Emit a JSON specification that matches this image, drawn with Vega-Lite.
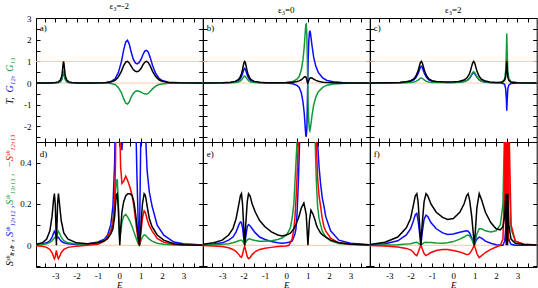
{
"$schema":"https://vega.github.io/schema/vega-lite/v6.json",
"padding":{"left":4,"top":1,"right":0,"bottom":0},
"bounds":"flush",
"spacing":0,
"columns":3,
"config":{"font":"Liberation Serif","view":{"stroke":"black","strokeWidth":1},"axis":{"domain":false,"grid":false,"tickColor":"black","tickWidth":1,"labelFont":"Liberation Serif","labelFontSize":9,"labelColor":"black"},"title":{"font":"Liberation Serif","fontSize":9,"fontWeight":"normal","offset":3}},
"datasets":{
"a":[
{"E":-3.9,"k":0.002,"b":0.001,"g":0.001},{"E":-3.3,"k":0.007,"b":0.0035,"g":0.0035},{"E":-3.0,"k":0.023,"b":0.012,"g":0.011},{"E":-2.86,"k":0.054,"b":0.027,"g":0.027},{"E":-2.76,"k":0.138,"b":0.069,"g":0.069},{"E":-2.71,"k":0.265,"b":0.13,"g":0.135},{"E":-2.68,"k":0.42,"b":0.21,"g":0.21},{"E":-2.65,"k":0.69,"b":0.34,"g":0.35},{"E":-2.63,"k":0.9,"b":0.45,"g":0.45},{"E":-2.61,"k":1.0,"b":0.5,"g":0.5},{"E":-2.59,"k":0.9,"b":0.45,"g":0.45},{"E":-2.57,"k":0.69,"b":0.34,"g":0.35},{"E":-2.54,"k":0.42,"b":0.21,"g":0.21},{"E":-2.51,"k":0.265,"b":0.13,"g":0.135},{"E":-2.46,"k":0.138,"b":0.069,"g":0.069},{"E":-2.36,"k":0.054,"b":0.027,"g":0.027},{"E":-2.21,"k":0.022,"b":0.011,"g":0.011},{"E":-1.9,"k":0.007,"b":0.0035,"g":0.0035},{"E":-1.3,"k":0.003,"b":0.003,"g":0.0},{"E":-0.8,"k":0.01,"b":0.01,"g":0.0},
{"E":-0.6,"k":0.02,"b":0.02,"g":0.0},{"E":-0.4,"k":0.05,"b":0.07,"g":-0.02},{"E":-0.2,"k":0.12,"b":0.19,"g":-0.07},{"E":-0.05,"k":0.28,"b":0.48,"g":-0.2},{"E":0.1,"k":0.55,"b":1.0,"g":-0.45},{"E":0.2,"k":0.8,"b":1.52,"g":-0.72},{"E":0.3,"k":0.97,"b":1.9,"g":-0.93},{"E":0.38,"k":1.0,"b":1.97,"g":-0.97},{"E":0.46,"k":0.93,"b":1.81,"g":-0.88},{"E":0.55,"k":0.78,"b":1.44,"g":-0.66},{"E":0.65,"k":0.62,"b":1.1,"g":-0.48},{"E":0.75,"k":0.54,"b":0.93,"g":-0.39},{"E":0.83,"k":0.52,"b":0.88,"g":-0.36},{"E":0.92,"k":0.56,"b":0.94,"g":-0.38},{"E":1.02,"k":0.68,"b":1.1,"g":-0.42},{"E":1.12,"k":0.87,"b":1.35,"g":-0.48},{"E":1.2,"k":0.97,"b":1.48,"g":-0.51},{"E":1.27,"k":1.0,"b":1.51,"g":-0.51},{"E":1.35,"k":0.95,"b":1.43,"g":-0.48},{"E":1.45,"k":0.78,"b":1.16,"g":-0.38},{"E":1.55,"k":0.55,"b":0.82,"g":-0.27},{"E":1.7,"k":0.3,"b":0.44,"g":-0.14},{"E":1.85,"k":0.15,"b":0.22,"g":-0.07},{"E":2.0,"k":0.08,"b":0.12,"g":-0.04},{"E":2.3,"k":0.03,"b":0.04,"g":-0.01},{"E":2.8,"k":0.01,"b":0.01,"g":0.0},{"E":3.9,"k":0.0,"b":0.0,"g":0.0}],
"b":[
{"E":-3.9,"k":0.004,"b":0.003,"g":0.001},{"E":-3.0,"k":0.015,"b":0.01,"g":0.005},{"E":-2.6,"k":0.038,"b":0.026,"g":0.012},{"E":-2.4,"k":0.077,"b":0.052,"g":0.025},{"E":-2.25,"k":0.158,"b":0.107,"g":0.051},{"E":-2.17,"k":0.26,"b":0.177,"g":0.083},{"E":-2.1,"k":0.43,"b":0.292,"g":0.138},{"E":-2.05,"k":0.63,"b":0.428,"g":0.202},{"E":-2.01,"k":0.82,"b":0.558,"g":0.262},{"E":-1.98,"k":0.95,"b":0.646,"g":0.304},{"E":-1.95,"k":1.0,"b":0.68,"g":0.32},{"E":-1.92,"k":0.95,"b":0.646,"g":0.304},{"E":-1.89,"k":0.82,"b":0.558,"g":0.262},{"E":-1.85,"k":0.63,"b":0.428,"g":0.202},{"E":-1.8,"k":0.43,"b":0.292,"g":0.138},{"E":-1.73,"k":0.26,"b":0.177,"g":0.083},{"E":-1.65,"k":0.158,"b":0.107,"g":0.051},{"E":-1.5,"k":0.077,"b":0.052,"g":0.025},{"E":-1.25,"k":0.033,"b":0.022,"g":0.011},{"E":-0.95,"k":0.017,"b":0.012,"g":0.005},{"E":-0.5,"k":0.012,"b":0.004,"g":0.008},
{"E":0.0,"k":0.02,"b":0.0,"g":0.02},{"E":0.3,"k":0.04,"b":-0.03,"g":0.07},{"E":0.5,"k":0.07,"b":-0.11,"g":0.18},{"E":0.6,"k":0.1,"b":-0.2,"g":0.3},{"E":0.7,"k":0.15,"b":-0.45,"g":0.6},{"E":0.78,"k":0.22,"b":-0.88,"g":1.1},{"E":0.84,"k":0.28,"b":-1.42,"g":1.7},{"E":0.88,"k":0.3,"b":-2.0,"g":2.3},{"E":0.91,"k":0.28,"b":-2.42,"g":2.7},{"E":0.93,"k":0.24,"b":-2.48,"g":2.72},{"E":0.96,"k":0.12,"b":-2.08,"g":2.2},{"E":0.98,"k":0.04,"b":-1.16,"g":1.2},{"E":1.0,"k":0.0,"b":0.0,"g":0.0},{"E":1.02,"k":0.04,"b":1.04,"g":-1.0},{"E":1.05,"k":0.12,"b":1.92,"g":-1.8},{"E":1.08,"k":0.19,"b":2.34,"g":-2.15},{"E":1.1,"k":0.22,"b":2.42,"g":-2.2},{"E":1.13,"k":0.24,"b":2.29,"g":-2.05},{"E":1.2,"k":0.23,"b":1.73,"g":-1.5},{"E":1.28,"k":0.18,"b":1.18,"g":-1.0},{"E":1.38,"k":0.12,"b":0.77,"g":-0.65},{"E":1.5,"k":0.08,"b":0.48,"g":-0.4},{"E":1.7,"k":0.04,"b":0.24,"g":-0.2},{"E":1.9,"k":0.02,"b":0.12,"g":-0.1},{"E":2.2,"k":0.01,"b":0.06,"g":-0.05},{"E":2.6,"k":0.005,"b":0.025,"g":-0.02},{"E":3.2,"k":0.0,"b":0.005,"g":0.0},{"E":3.9,"k":0.0,"b":0.0,"g":0.0}],
"c":[
{"E":-3.9,"k":0.006,"b":0.004,"g":0.002},{"E":-3.0,"k":0.015,"b":0.011,"g":0.004},{"E":-2.5,"k":0.03,"b":0.023,"g":0.007},{"E":-2.2,"k":0.059,"b":0.045,"g":0.015},{"E":-2.0,"k":0.107,"b":0.082,"g":0.025},{"E":-1.85,"k":0.193,"b":0.148,"g":0.045},{"E":-1.75,"k":0.323,"b":0.248,"g":0.075},{"E":-1.65,"k":0.564,"b":0.433,"g":0.131},{"E":-1.6,"k":0.744,"b":0.572,"g":0.172},{"E":-1.55,"k":0.924,"b":0.71,"g":0.214},{"E":-1.5,"k":1.0,"b":0.772,"g":0.232},{"E":-1.45,"k":0.925,"b":0.71,"g":0.214},{"E":-1.4,"k":0.745,"b":0.572,"g":0.173},{"E":-1.35,"k":0.565,"b":0.433,"g":0.132},{"E":-1.25,"k":0.326,"b":0.249,"g":0.077},{"E":-1.15,"k":0.196,"b":0.149,"g":0.047},{"E":-1.0,"k":0.111,"b":0.083,"g":0.028},{"E":-0.8,"k":0.07,"b":0.05,"g":0.02},{"E":-0.5,"k":0.055,"b":0.035,"g":0.02},{"E":-0.3,"k":0.05,"b":0.03,"g":0.02},{"E":0.0,"k":0.055,"b":0.03,"g":0.025},{"E":0.25,"k":0.075,"b":0.04,"g":0.035},{"E":0.5,"k":0.14,"b":0.07,"g":0.07},{"E":0.65,"k":0.25,"b":0.121,"g":0.128},{"E":0.75,"k":0.425,"b":0.205,"g":0.22},{"E":0.8,"k":0.565,"b":0.273,"g":0.292},{"E":0.85,"k":0.745,"b":0.359,"g":0.386},{"E":0.9,"k":0.925,"b":0.445,"g":0.48},{"E":0.95,"k":1.0,"b":0.484,"g":0.521},{"E":1.0,"k":0.924,"b":0.445,"g":0.479},{"E":1.05,"k":0.744,"b":0.358,"g":0.386},{"E":1.1,"k":0.564,"b":0.272,"g":0.292},{"E":1.2,"k":0.324,"b":0.157,"g":0.167},{"E":1.3,"k":0.194,"b":0.094,"g":0.1},{"E":1.45,"k":0.107,"b":0.052,"g":0.055},{"E":1.7,"k":0.052,"b":0.026,"g":0.026},{"E":2.0,"k":0.03,"b":0.012,"g":0.018},{"E":2.2,"k":0.04,"b":0.0,"g":0.04},{"E":2.3,"k":0.05,"b":-0.01,"g":0.06},{"E":2.4,"k":0.13,"b":-0.06,"g":0.19},{"E":2.45,"k":0.3,"b":-0.28,"g":0.58},{"E":2.48,"k":0.66,"b":-0.74,"g":1.4},{"E":2.5,"k":1.0,"b":-1.28,"g":2.28},{"E":2.52,"k":0.62,"b":-0.78,"g":1.4},{"E":2.55,"k":0.26,"b":-0.25,"g":0.51},{"E":2.6,"k":0.11,"b":-0.09,"g":0.2},{"E":2.7,"k":0.04,"b":-0.02,"g":0.06},{"E":3.0,"k":0.01,"b":0.0,"g":0.01},{"E":3.9,"k":0.003,"b":0.001,"g":0.002}],
"d":[
{"E":-3.9,"k":0.005,"b":0.003,"g":0.002,"r":-0.002},{"E":-3.6,"k":0.012,"b":0.006,"g":0.004,"r":-0.005},{"E":-3.4,"k":0.03,"b":0.012,"g":0.008,"r":-0.01},{"E":-3.25,"k":0.07,"b":0.022,"g":0.014,"r":-0.02},{"E":-3.15,"k":0.14,"b":0.038,"g":0.022,"r":-0.035},{"E":-3.08,"k":0.22,"b":0.058,"g":0.03,"r":-0.055},{"E":-3.04,"k":0.25,"b":0.068,"g":0.035,"r":-0.065},{"E":-3.0,"k":0.2,"b":0.06,"g":0.04,"r":-0.055},{"E":-2.965,"k":0.08,"b":0.04,"g":0.04,"r":-0.035},{"E":-2.945,"k":0.0,"b":0.03,"g":0.03,"r":-0.025},{"E":-2.925,"k":0.08,"b":0.035,"g":0.045,"r":-0.035},{"E":-2.89,"k":0.2,"b":0.04,"g":0.062,"r":-0.055},{"E":-2.85,"k":0.25,"b":0.038,"g":0.068,"r":-0.065},{"E":-2.8,"k":0.2,"b":0.03,"g":0.058,"r":-0.055},{"E":-2.72,"k":0.12,"b":0.02,"g":0.038,"r":-0.035},{"E":-2.6,"k":0.06,"b":0.012,"g":0.022,"r":-0.02},{"E":-2.4,"k":0.03,"b":0.007,"g":0.012,"r":-0.01},{"E":-2.0,"k":0.012,"b":0.004,"g":0.006,"r":-0.004},{"E":-1.5,"k":0.008,"b":0.006,"g":0.005,"r":0.0},
{"E":-1.0,"k":0.012,"b":0.016,"g":0.012,"r":0.005},{"E":-0.7,"k":0.022,"b":0.03,"g":0.025,"r":0.02},{"E":-0.55,"k":0.032,"b":0.05,"g":0.04,"r":0.04},{"E":-0.4,"k":0.055,"b":0.1,"g":0.07,"r":0.07},{"E":-0.3,"k":0.08,"b":0.19,"g":0.12,"r":0.1},{"E":-0.22,"k":0.14,"b":0.4,"g":0.2,"r":0.22},{"E":-0.18,"k":0.2,"b":0.7,"g":0.26,"r":0.4},{"E":-0.14,"k":0.245,"b":1.5,"g":0.31,"r":0.8},{"E":-0.1,"k":0.25,"b":3.0,"g":0.32,"r":2.0},{"E":-0.05,"k":0.18,"b":2.5,"g":0.22,"r":1.6},{"E":0.0,"k":0.05,"b":1.2,"g":0.06,"r":0.8},{"E":0.02,"k":0.0,"b":0.9,"g":0.02,"r":0.55},{"E":0.06,"k":0.08,"b":0.6,"g":0.06,"r":0.38},{"E":0.12,"k":0.16,"b":0.46,"g":0.11,"r":0.3},{"E":0.2,"k":0.21,"b":0.6,"g":0.14,"r":0.31},{"E":0.3,"k":0.24,"b":1.0,"g":0.15,"r":0.335},{"E":0.4,"k":0.25,"b":1.6,"g":0.135,"r":0.31},{"E":0.5,"k":0.25,"b":2.0,"g":0.115,"r":0.28},{"E":0.6,"k":0.24,"b":1.8,"g":0.09,"r":0.24},{"E":0.68,"k":0.21,"b":1.2,"g":0.065,"r":0.19},{"E":0.75,"k":0.16,"b":0.7,"g":0.045,"r":0.13},{"E":0.82,"k":0.1,"b":0.35,"g":0.025,"r":0.07},{"E":0.88,"k":0.04,"b":0.12,"g":0.008,"r":0.025},{"E":0.94,"k":0.0,"b":0.0,"g":0.0,"r":0.0},{"E":1.0,"k":0.08,"b":0.5,"g":0.02,"r":0.05},{"E":1.08,"k":0.2,"b":1.8,"g":0.04,"r":0.13},{"E":1.16,"k":0.25,"b":3.0,"g":0.05,"r":0.167},{"E":1.2,"k":0.245,"b":1.2,"g":0.05,"r":0.162},{"E":1.24,"k":0.23,"b":0.5,"g":0.047,"r":0.15},{"E":1.3,"k":0.19,"b":0.36,"g":0.04,"r":0.125},{"E":1.4,"k":0.13,"b":0.26,"g":0.03,"r":0.095},{"E":1.53,"k":0.09,"b":0.19,"g":0.02,"r":0.07},{"E":1.77,"k":0.05,"b":0.097,"g":0.01,"r":0.033},{"E":2.08,"k":0.025,"b":0.049,"g":0.005,"r":0.015},{"E":2.55,"k":0.008,"b":0.016,"g":0.002,"r":0.005},{"E":3.0,"k":0.003,"b":0.007,"g":0.001,"r":0.002},{"E":3.9,"k":0.0,"b":0.002,"g":0.0,"r":0.0}],
"e":[
{"E":-3.9,"k":0.005,"b":0.003,"g":0.001,"r":-0.001},{"E":-3.4,"k":0.012,"b":0.006,"g":0.003,"r":-0.003},{"E":-3.0,"k":0.025,"b":0.012,"g":0.005,"r":-0.006},{"E":-2.7,"k":0.05,"b":0.025,"g":0.008,"r":-0.012},{"E":-2.5,"k":0.08,"b":0.04,"g":0.012,"r":-0.02},{"E":-2.35,"k":0.13,"b":0.065,"g":0.017,"r":-0.03},{"E":-2.22,"k":0.2,"b":0.1,"g":0.022,"r":-0.045},{"E":-2.15,"k":0.24,"b":0.113,"g":0.025,"r":-0.055},{"E":-2.1,"k":0.25,"b":0.11,"g":0.025,"r":-0.058},{"E":-2.05,"k":0.2,"b":0.085,"g":0.02,"r":-0.045},{"E":-2.0,"k":0.1,"b":0.04,"g":0.012,"r":-0.02},{"E":-1.95,"k":0.0,"b":0.0,"g":0.005,"r":-0.005},{"E":-1.9,"k":0.1,"b":0.04,"g":0.015,"r":-0.025},{"E":-1.83,"k":0.21,"b":0.09,"g":0.025,"r":-0.055},{"E":-1.77,"k":0.25,"b":0.1,"g":0.03,"r":-0.065},{"E":-1.7,"k":0.24,"b":0.095,"g":0.03,"r":-0.06},{"E":-1.6,"k":0.2,"b":0.08,"g":0.027,"r":-0.045},{"E":-1.45,"k":0.16,"b":0.06,"g":0.023,"r":-0.03},{"E":-1.25,"k":0.12,"b":0.04,"g":0.02,"r":-0.02},{"E":-1.0,"k":0.09,"b":0.028,"g":0.02,"r":-0.014},{"E":-0.7,"k":0.065,"b":0.018,"g":0.022,"r":-0.01},{"E":-0.4,"k":0.05,"b":0.012,"g":0.028,"r":-0.006},{"E":-0.2,"k":0.045,"b":0.01,"g":0.035,"r":-0.004},
{"E":0.0,"k":0.05,"b":0.012,"g":0.05,"r":-0.003},{"E":0.12,"k":0.055,"b":0.015,"g":0.07,"r":0.0},{"E":0.2,"k":0.06,"b":0.018,"g":0.09,"r":0.015},{"E":0.27,"k":0.07,"b":0.02,"g":0.13,"r":0.03},{"E":0.35,"k":0.08,"b":0.04,"g":0.2,"r":0.08},{"E":0.4,"k":0.09,"b":0.055,"g":0.3,"r":0.13},{"E":0.45,"k":0.1,"b":0.08,"g":0.4,"r":0.22},{"E":0.5,"k":0.115,"b":0.15,"g":0.5,"r":0.33},{"E":0.56,"k":0.13,"b":0.3,"g":0.8,"r":0.5},{"E":0.62,"k":0.15,"b":0.5,"g":1.3,"r":0.9},{"E":0.7,"k":0.18,"b":1.3,"g":2.5,"r":2.0},{"E":0.82,"k":0.205,"b":3.0,"g":5.0,"r":4.0},{"E":0.93,"k":0.15,"b":4.0,"g":6.0,"r":5.0},{"E":1.01,"k":0.0,"b":5.0,"g":6.0,"r":5.0},{"E":1.08,"k":0.12,"b":5.0,"g":5.0,"r":5.0},{"E":1.15,"k":0.17,"b":4.0,"g":3.0,"r":3.5},{"E":1.25,"k":0.15,"b":2.5,"g":1.5,"r":2.0},{"E":1.3,"k":0.135,"b":1.6,"g":0.7,"r":1.2},{"E":1.35,"k":0.12,"b":1.1,"g":0.5,"r":0.8},{"E":1.4,"k":0.1,"b":0.8,"g":0.32,"r":0.5},{"E":1.46,"k":0.085,"b":0.5,"g":0.19,"r":0.33},{"E":1.53,"k":0.072,"b":0.38,"g":0.13,"r":0.24},{"E":1.6,"k":0.06,"b":0.3,"g":0.1,"r":0.19},{"E":1.68,"k":0.052,"b":0.23,"g":0.07,"r":0.13},{"E":1.76,"k":0.046,"b":0.19,"g":0.055,"r":0.09},{"E":1.84,"k":0.04,"b":0.14,"g":0.042,"r":0.07},{"E":2.07,"k":0.025,"b":0.07,"g":0.022,"r":0.035},{"E":2.46,"k":0.012,"b":0.025,"g":0.009,"r":0.012},{"E":3.0,"k":0.006,"b":0.01,"g":0.004,"r":0.005},{"E":3.9,"k":0.002,"b":0.003,"g":0.001,"r":0.001}],
"f":[
{"E":-3.9,"k":0.004,"b":0.002,"g":0.0,"r":-0.001},{"E":-3.2,"k":0.015,"b":0.008,"g":0.001,"r":-0.003},{"E":-2.6,"k":0.04,"b":0.022,"g":0.003,"r":-0.008},{"E":-2.2,"k":0.085,"b":0.05,"g":0.006,"r":-0.015},{"E":-2.0,"k":0.13,"b":0.08,"g":0.008,"r":-0.022},{"E":-1.88,"k":0.19,"b":0.115,"g":0.011,"r":-0.032},{"E":-1.78,"k":0.24,"b":0.148,"g":0.014,"r":-0.045},{"E":-1.71,"k":0.25,"b":0.154,"g":0.015,"r":-0.05},{"E":-1.65,"k":0.21,"b":0.12,"g":0.012,"r":-0.035},{"E":-1.58,"k":0.1,"b":0.06,"g":0.006,"r":-0.015},{"E":-1.52,"k":0.0,"b":0.0,"g":0.0,"r":0.002},{"E":-1.46,"k":0.1,"b":0.06,"g":0.006,"r":-0.015},{"E":-1.37,"k":0.21,"b":0.125,"g":0.013,"r":-0.04},{"E":-1.28,"k":0.25,"b":0.146,"g":0.015,"r":-0.05},{"E":-1.2,"k":0.24,"b":0.14,"g":0.014,"r":-0.045},{"E":-1.05,"k":0.2,"b":0.11,"g":0.013,"r":-0.035},{"E":-0.8,"k":0.16,"b":0.08,"g":0.011,"r":-0.025},{"E":-0.5,"k":0.135,"b":0.06,"g":0.01,"r":-0.02},{"E":-0.27,"k":0.125,"b":0.052,"g":0.012,"r":-0.02},{"E":0.0,"k":0.13,"b":0.055,"g":0.018,"r":-0.025},{"E":0.3,"k":0.16,"b":0.063,"g":0.03,"r":-0.032},{"E":0.5,"k":0.2,"b":0.068,"g":0.04,"r":-0.04},{"E":0.62,"k":0.24,"b":0.07,"g":0.048,"r":-0.045},{"E":0.69,"k":0.25,"b":0.068,"g":0.05,"r":-0.045},{"E":0.76,"k":0.22,"b":0.06,"g":0.045,"r":-0.04},{"E":0.86,"k":0.14,"b":0.035,"g":0.03,"r":-0.025},{"E":0.93,"k":0.06,"b":0.015,"g":0.012,"r":-0.01},{"E":0.98,"k":0.0,"b":0.0,"g":0.0,"r":0.0},{"E":1.03,"k":0.07,"b":0.015,"g":0.02,"r":-0.015},{"E":1.1,"k":0.18,"b":0.03,"g":0.055,"r":-0.04},{"E":1.21,"k":0.25,"b":0.04,"g":0.08,"r":-0.06},{"E":1.32,"k":0.22,"b":0.035,"g":0.08,"r":-0.05},{"E":1.5,"k":0.16,"b":0.02,"g":0.07,"r":-0.035},{"E":1.75,"k":0.11,"b":0.01,"g":0.065,"r":-0.02},{"E":2.0,"k":0.08,"b":0.003,"g":0.07,"r":-0.008},{"E":2.2,"k":0.075,"b":0.0,"g":0.1,"r":0.0},{"E":2.32,"k":0.09,"b":0.0,"g":0.2,"r":0.03},{"E":2.4,"k":0.14,"b":0.02,"g":0.6,"r":0.3},{"E":2.43,"k":0.2,"b":0.05,"g":1.5,"r":1.5},{"E":2.445,"k":0.23,"b":0.07,"g":2.2,"r":0.02},{"E":2.46,"k":0.25,"b":0.1,"g":3.0,"r":3.0},{"E":2.475,"k":0.0,"b":0.13,"g":4.0,"r":0.02},{"E":2.49,"k":0.25,"b":0.17,"g":5.0,"r":4.0},{"E":2.505,"k":0.0,"b":0.2,"g":5.0,"r":0.02},{"E":2.52,"k":0.25,"b":0.15,"g":4.0,"r":4.0},{"E":2.535,"k":0.0,"b":0.11,"g":3.5,"r":0.02},{"E":2.55,"k":0.25,"b":0.08,"g":3.0,"r":3.0},{"E":2.565,"k":0.18,"b":0.06,"g":2.0,"r":0.02},{"E":2.58,"k":0.15,"b":0.04,"g":1.0,"r":2.0},{"E":2.6,"k":0.1,"b":0.03,"g":0.6,"r":0.8},{"E":2.62,"k":0.08,"b":0.02,"g":0.3,"r":0.5},{"E":2.7,"k":0.03,"b":0.005,"g":0.08,"r":0.1},{"E":2.9,"k":0.01,"b":0.0,"g":0.02,"r":0.02},{"E":3.3,"k":0.004,"b":0.0,"g":0.005,"r":0.005},{"E":3.9,"k":0.001,"b":0.0,"g":0.001,"r":0.001}]
},
"concat":[
{"width":166.7,"height":124,"title":"ε₃=-2","data":{"name":"a"},"resolve":{"axis":{"x":"independent","y":"independent"}},
"layer":[
{"data":{"values":[{"y":0},{"y":1}]},"mark":{"type":"rule","color":"#fbc9a2","strokeWidth":1},"encoding":{"y":{"field":"y","type":"quantitative","scale":{"domain":[-2.72,3],"nice":false,"zero":false},"axis":{"orient":"left","values":[-2.5,-2,-1.5,-1,-0.5,0,0.5,1,1.5,2,2.5,3],"tickSize":-4,"labelPadding":9,"labelExpr":"datum.value % 1 == 0 ? '' + datum.value : ''","title":null}}}},
{"mark":{"type":"line","color":"#0a0aff","strokeWidth":1.5,"clip":true},"encoding":{"x":{"field":"E","type":"quantitative","scale":{"domain":[-3.9,3.9],"nice":false,"zero":false},"axis":{"orient":"bottom","values":[-3.5,-3,-2.5,-2,-1.5,-1,-0.5,0,0.5,1,1.5,2,2.5,3,3.5],"tickSize":-4,"labels":false,"title":null}},"y":{"field":"b","type":"quantitative","scale":{"domain":[-2.72,3],"nice":false,"zero":false},"axis":null}}},
{"mark":{"type":"line","color":"#129a3a","strokeWidth":1.5,"clip":true},"encoding":{"x":{"field":"E","type":"quantitative","scale":{"domain":[-3.9,3.9],"nice":false,"zero":false},"axis":{"orient":"top","values":[-3.5,-3,-2.5,-2,-1.5,-1,-0.5,0,0.5,1,1.5,2,2.5,3,3.5],"tickSize":-4,"labels":false,"title":null}},"y":{"field":"g","type":"quantitative","scale":{"domain":[-2.72,3],"nice":false,"zero":false},"axis":{"orient":"right","values":[-2.5,-2,-1.5,-1,-0.5,0,0.5,1,1.5,2,2.5,3],"tickSize":-4,"labels":false,"title":null}}}},
{"mark":{"type":"line","color":"black","strokeWidth":1.5,"clip":true},"encoding":{"x":{"field":"E","type":"quantitative","scale":{"domain":[-3.9,3.9],"nice":false,"zero":false},"axis":null},"y":{"field":"k","type":"quantitative","scale":{"domain":[-2.72,3],"nice":false,"zero":false},"axis":null}}},
{"data":{"values":[{}]},"mark":{"type":"text","text":"a)","align":"left","baseline":"middle","fontSize":9},"encoding":{"x":{"datum":-3.72,"type":"quantitative","scale":{"domain":[-3.9,3.9],"nice":false,"zero":false},"axis":null},"y":{"datum":2.55,"type":"quantitative","scale":{"domain":[-2.72,3],"nice":false,"zero":false},"axis":null}}},
{"data":{"values":[{}]},"mark":{"type":"text","text":"T,","angle":270,"align":"center","baseline":"middle","fontSize":10,"fontStyle":"italic","color":"black"},"encoding":{"x":{"datum":-5.12,"type":"quantitative","scale":{"domain":[-3.9,3.9],"nice":false,"zero":false},"axis":null},"y":{"datum":-0.82,"type":"quantitative","scale":{"domain":[-2.72,3],"nice":false,"zero":false},"axis":null}}},
{"data":{"values":[{}]},"mark":{"type":"text","text":"G₁₂,","angle":270,"align":"center","baseline":"middle","fontSize":10,"fontStyle":"italic","color":"#0a0aff"},"encoding":{"x":{"datum":-5.12,"type":"quantitative","scale":{"domain":[-3.9,3.9],"nice":false,"zero":false},"axis":null},"y":{"datum":-0.05,"type":"quantitative","scale":{"domain":[-2.72,3],"nice":false,"zero":false},"axis":null}}},
{"data":{"values":[{}]},"mark":{"type":"text","text":"G₁₃","angle":270,"align":"center","baseline":"middle","fontSize":10,"fontStyle":"italic","color":"#129a3a"},"encoding":{"x":{"datum":-5.12,"type":"quantitative","scale":{"domain":[-3.9,3.9],"nice":false,"zero":false},"axis":null},"y":{"datum":0.85,"type":"quantitative","scale":{"domain":[-2.72,3],"nice":false,"zero":false},"axis":null}}}
]},
{"width":166.7,"height":124,"title":"ε₃=0","data":{"name":"b"},"resolve":{"axis":{"x":"independent","y":"independent"}},
"layer":[
{"data":{"values":[{"y":0},{"y":1}]},"mark":{"type":"rule","color":"#fbc9a2","strokeWidth":1},"encoding":{"y":{"field":"y","type":"quantitative","scale":{"domain":[-2.72,3],"nice":false,"zero":false},"axis":{"orient":"left","values":[-2.5,-2,-1.5,-1,-0.5,0,0.5,1,1.5,2,2.5,3],"tickSize":-4,"labels":false,"title":null}}}},
{"mark":{"type":"line","color":"#0a0aff","strokeWidth":1.5,"clip":true},"encoding":{"x":{"field":"E","type":"quantitative","scale":{"domain":[-3.9,3.9],"nice":false,"zero":false},"axis":{"orient":"bottom","values":[-3.5,-3,-2.5,-2,-1.5,-1,-0.5,0,0.5,1,1.5,2,2.5,3,3.5],"tickSize":-4,"labels":false,"title":null}},"y":{"field":"b","type":"quantitative","scale":{"domain":[-2.72,3],"nice":false,"zero":false},"axis":null}}},
{"mark":{"type":"line","color":"#129a3a","strokeWidth":1.5,"clip":true},"encoding":{"x":{"field":"E","type":"quantitative","scale":{"domain":[-3.9,3.9],"nice":false,"zero":false},"axis":{"orient":"top","values":[-3.5,-3,-2.5,-2,-1.5,-1,-0.5,0,0.5,1,1.5,2,2.5,3,3.5],"tickSize":-4,"labels":false,"title":null}},"y":{"field":"g","type":"quantitative","scale":{"domain":[-2.72,3],"nice":false,"zero":false},"axis":{"orient":"right","values":[-2.5,-2,-1.5,-1,-0.5,0,0.5,1,1.5,2,2.5,3],"tickSize":-4,"labels":false,"title":null}}}},
{"mark":{"type":"line","color":"black","strokeWidth":1.5,"clip":true},"encoding":{"x":{"field":"E","type":"quantitative","scale":{"domain":[-3.9,3.9],"nice":false,"zero":false},"axis":null},"y":{"field":"k","type":"quantitative","scale":{"domain":[-2.72,3],"nice":false,"zero":false},"axis":null}}},
{"data":{"values":[{}]},"mark":{"type":"text","text":"b)","align":"left","baseline":"middle","fontSize":9},"encoding":{"x":{"datum":-3.72,"type":"quantitative","scale":{"domain":[-3.9,3.9],"nice":false,"zero":false},"axis":null},"y":{"datum":2.55,"type":"quantitative","scale":{"domain":[-2.72,3],"nice":false,"zero":false},"axis":null}}}
]},
{"width":166.7,"height":124,"title":"ε₃=2","data":{"name":"c"},"resolve":{"axis":{"x":"independent","y":"independent"}},
"layer":[
{"data":{"values":[{"y":0},{"y":1}]},"mark":{"type":"rule","color":"#fbc9a2","strokeWidth":1},"encoding":{"y":{"field":"y","type":"quantitative","scale":{"domain":[-2.72,3],"nice":false,"zero":false},"axis":{"orient":"left","values":[-2.5,-2,-1.5,-1,-0.5,0,0.5,1,1.5,2,2.5,3],"tickSize":-4,"labels":false,"title":null}}}},
{"mark":{"type":"line","color":"#0a0aff","strokeWidth":1.5,"clip":true},"encoding":{"x":{"field":"E","type":"quantitative","scale":{"domain":[-3.9,3.9],"nice":false,"zero":false},"axis":{"orient":"bottom","values":[-3.5,-3,-2.5,-2,-1.5,-1,-0.5,0,0.5,1,1.5,2,2.5,3,3.5],"tickSize":-4,"labels":false,"title":null}},"y":{"field":"b","type":"quantitative","scale":{"domain":[-2.72,3],"nice":false,"zero":false},"axis":null}}},
{"mark":{"type":"line","color":"#129a3a","strokeWidth":1.5,"clip":true},"encoding":{"x":{"field":"E","type":"quantitative","scale":{"domain":[-3.9,3.9],"nice":false,"zero":false},"axis":{"orient":"top","values":[-3.5,-3,-2.5,-2,-1.5,-1,-0.5,0,0.5,1,1.5,2,2.5,3,3.5],"tickSize":-4,"labels":false,"title":null}},"y":{"field":"g","type":"quantitative","scale":{"domain":[-2.72,3],"nice":false,"zero":false},"axis":{"orient":"right","values":[-2.5,-2,-1.5,-1,-0.5,0,0.5,1,1.5,2,2.5,3],"tickSize":-4,"labels":false,"title":null}}}},
{"mark":{"type":"line","color":"black","strokeWidth":1.5,"clip":true},"encoding":{"x":{"field":"E","type":"quantitative","scale":{"domain":[-3.9,3.9],"nice":false,"zero":false},"axis":null},"y":{"field":"k","type":"quantitative","scale":{"domain":[-2.72,3],"nice":false,"zero":false},"axis":null}}},
{"data":{"values":[{}]},"mark":{"type":"text","text":"c)","align":"left","baseline":"middle","fontSize":9},"encoding":{"x":{"datum":-3.72,"type":"quantitative","scale":{"domain":[-3.9,3.9],"nice":false,"zero":false},"axis":null},"y":{"datum":2.55,"type":"quantitative","scale":{"domain":[-2.72,3],"nice":false,"zero":false},"axis":null}}}
]},
{"width":166.7,"height":125,"data":{"name":"d"},"resolve":{"axis":{"x":"independent","y":"independent"}},
"layer":[
{"data":{"values":[{"y":0}]},"mark":{"type":"rule","color":"#fbc9a2","strokeWidth":1},"encoding":{"y":{"field":"y","type":"quantitative","scale":{"domain":[-0.105,0.5],"nice":false,"zero":false},"axis":{"orient":"left","values":[-0.1,0,0.1,0.2,0.3,0.4,0.5],"tickSize":-4,"labelPadding":9,"labelExpr":"datum.value == 0 || datum.value == 0.2 || datum.value == 0.4 ? '' + datum.value : ''","title":null}}}},
{"mark":{"type":"line","color":"#0a0aff","strokeWidth":1.5,"clip":true},"encoding":{"x":{"field":"E","type":"quantitative","scale":{"domain":[-3.9,3.9],"nice":false,"zero":false},"axis":{"orient":"bottom","values":[-3.5,-3,-2.5,-2,-1.5,-1,-0.5,0,0.5,1,1.5,2,2.5,3,3.5],"tickSize":-4,"labelPadding":8,"labelExpr":"datum.value % 1 == 0 ? '' + datum.value : ''","title":"E","titleFontStyle":"italic","titleFontWeight":"normal","titleFontSize":9,"titlePadding":0}},"y":{"field":"b","type":"quantitative","scale":{"domain":[-0.105,0.5],"nice":false,"zero":false},"axis":null}}},
{"mark":{"type":"line","color":"#129a3a","strokeWidth":1.5,"clip":true},"encoding":{"x":{"field":"E","type":"quantitative","scale":{"domain":[-3.9,3.9],"nice":false,"zero":false},"axis":{"orient":"top","values":[-3.5,-3,-2.5,-2,-1.5,-1,-0.5,0,0.5,1,1.5,2,2.5,3,3.5],"tickSize":-4,"labels":false,"title":null}},"y":{"field":"g","type":"quantitative","scale":{"domain":[-0.105,0.5],"nice":false,"zero":false},"axis":{"orient":"right","values":[-0.1,0,0.1,0.2,0.3,0.4,0.5],"tickSize":-4,"labels":false,"title":null}}}},
{"mark":{"type":"line","color":"#ff0000","strokeWidth":1.5,"clip":true},"encoding":{"x":{"field":"E","type":"quantitative","scale":{"domain":[-3.9,3.9],"nice":false,"zero":false},"axis":null},"y":{"field":"r","type":"quantitative","scale":{"domain":[-0.105,0.5],"nice":false,"zero":false},"axis":null}}},
{"mark":{"type":"line","color":"black","strokeWidth":1.5,"clip":true},"encoding":{"x":{"field":"E","type":"quantitative","scale":{"domain":[-3.9,3.9],"nice":false,"zero":false},"axis":null},"y":{"field":"k","type":"quantitative","scale":{"domain":[-0.105,0.5],"nice":false,"zero":false},"axis":null}}},
{"data":{"values":[{}]},"mark":{"type":"text","text":"d)","align":"left","baseline":"middle","fontSize":9},"encoding":{"x":{"datum":-3.72,"type":"quantitative","scale":{"domain":[-3.9,3.9],"nice":false,"zero":false},"axis":null},"y":{"datum":0.44,"type":"quantitative","scale":{"domain":[-0.105,0.5],"nice":false,"zero":false},"axis":null}}},
{"data":{"values":[{}]},"mark":{"type":"text","text":"Sˢʰₜᵣ,ₜᵣ ,","angle":270,"align":"center","baseline":"middle","fontSize":10,"fontStyle":"italic","color":"black"},"encoding":{"x":{"datum":-5.12,"type":"quantitative","scale":{"domain":[-3.9,3.9],"nice":false,"zero":false},"axis":null},"y":{"datum":-0.036,"type":"quantitative","scale":{"domain":[-0.105,0.5],"nice":false,"zero":false},"axis":null}}},
{"data":{"values":[{}]},"mark":{"type":"text","text":"Sˢʰ₁₂,₁₂ ,","angle":270,"align":"center","baseline":"middle","fontSize":10,"fontStyle":"italic","color":"#0a0aff"},"encoding":{"x":{"datum":-5.12,"type":"quantitative","scale":{"domain":[-3.9,3.9],"nice":false,"zero":false},"axis":null},"y":{"datum":0.117,"type":"quantitative","scale":{"domain":[-0.105,0.5],"nice":false,"zero":false},"axis":null}}},
{"data":{"values":[{}]},"mark":{"type":"text","text":"Sˢʰ₁₃,₁₃ ,","angle":270,"align":"center","baseline":"middle","fontSize":10,"fontStyle":"italic","color":"#129a3a"},"encoding":{"x":{"datum":-5.12,"type":"quantitative","scale":{"domain":[-3.9,3.9],"nice":false,"zero":false},"axis":null},"y":{"datum":0.272,"type":"quantitative","scale":{"domain":[-0.105,0.5],"nice":false,"zero":false},"axis":null}}},
{"data":{"values":[{}]},"mark":{"type":"text","text":"−Sˢʰ₁₂,₁₃","angle":270,"align":"center","baseline":"middle","fontSize":10,"fontStyle":"italic","color":"#ff0000"},"encoding":{"x":{"datum":-5.12,"type":"quantitative","scale":{"domain":[-3.9,3.9],"nice":false,"zero":false},"axis":null},"y":{"datum":0.456,"type":"quantitative","scale":{"domain":[-0.105,0.5],"nice":false,"zero":false},"axis":null}}}
]},
{"width":166.7,"height":125,"data":{"name":"e"},"resolve":{"axis":{"x":"independent","y":"independent"}},
"layer":[
{"data":{"values":[{"y":0}]},"mark":{"type":"rule","color":"#fbc9a2","strokeWidth":1},"encoding":{"y":{"field":"y","type":"quantitative","scale":{"domain":[-0.105,0.5],"nice":false,"zero":false},"axis":{"orient":"left","values":[-0.1,0,0.1,0.2,0.3,0.4,0.5],"tickSize":-4,"labels":false,"title":null}}}},
{"mark":{"type":"line","color":"#0a0aff","strokeWidth":1.5,"clip":true},"encoding":{"x":{"field":"E","type":"quantitative","scale":{"domain":[-3.9,3.9],"nice":false,"zero":false},"axis":{"orient":"bottom","values":[-3.5,-3,-2.5,-2,-1.5,-1,-0.5,0,0.5,1,1.5,2,2.5,3,3.5],"tickSize":-4,"labelPadding":8,"labelExpr":"datum.value % 1 == 0 ? '' + datum.value : ''","title":"E","titleFontStyle":"italic","titleFontWeight":"normal","titleFontSize":9,"titlePadding":0}},"y":{"field":"b","type":"quantitative","scale":{"domain":[-0.105,0.5],"nice":false,"zero":false},"axis":null}}},
{"mark":{"type":"line","color":"#129a3a","strokeWidth":1.5,"clip":true},"encoding":{"x":{"field":"E","type":"quantitative","scale":{"domain":[-3.9,3.9],"nice":false,"zero":false},"axis":{"orient":"top","values":[-3.5,-3,-2.5,-2,-1.5,-1,-0.5,0,0.5,1,1.5,2,2.5,3,3.5],"tickSize":-4,"labels":false,"title":null}},"y":{"field":"g","type":"quantitative","scale":{"domain":[-0.105,0.5],"nice":false,"zero":false},"axis":{"orient":"right","values":[-0.1,0,0.1,0.2,0.3,0.4,0.5],"tickSize":-4,"labels":false,"title":null}}}},
{"mark":{"type":"line","color":"#ff0000","strokeWidth":1.5,"clip":true},"encoding":{"x":{"field":"E","type":"quantitative","scale":{"domain":[-3.9,3.9],"nice":false,"zero":false},"axis":null},"y":{"field":"r","type":"quantitative","scale":{"domain":[-0.105,0.5],"nice":false,"zero":false},"axis":null}}},
{"mark":{"type":"line","color":"black","strokeWidth":1.5,"clip":true},"encoding":{"x":{"field":"E","type":"quantitative","scale":{"domain":[-3.9,3.9],"nice":false,"zero":false},"axis":null},"y":{"field":"k","type":"quantitative","scale":{"domain":[-0.105,0.5],"nice":false,"zero":false},"axis":null}}},
{"data":{"values":[{}]},"mark":{"type":"text","text":"e)","align":"left","baseline":"middle","fontSize":9},"encoding":{"x":{"datum":-3.72,"type":"quantitative","scale":{"domain":[-3.9,3.9],"nice":false,"zero":false},"axis":null},"y":{"datum":0.44,"type":"quantitative","scale":{"domain":[-0.105,0.5],"nice":false,"zero":false},"axis":null}}}
]},
{"width":166.7,"height":125,"data":{"name":"f"},"resolve":{"axis":{"x":"independent","y":"independent"}},
"layer":[
{"data":{"values":[{"y":0}]},"mark":{"type":"rule","color":"#fbc9a2","strokeWidth":1},"encoding":{"y":{"field":"y","type":"quantitative","scale":{"domain":[-0.105,0.5],"nice":false,"zero":false},"axis":{"orient":"left","values":[-0.1,0,0.1,0.2,0.3,0.4,0.5],"tickSize":-4,"labels":false,"title":null}}}},
{"mark":{"type":"line","color":"#0a0aff","strokeWidth":1.5,"clip":true},"encoding":{"x":{"field":"E","type":"quantitative","scale":{"domain":[-3.9,3.9],"nice":false,"zero":false},"axis":{"orient":"bottom","values":[-3.5,-3,-2.5,-2,-1.5,-1,-0.5,0,0.5,1,1.5,2,2.5,3,3.5],"tickSize":-4,"labelPadding":8,"labelExpr":"datum.value % 1 == 0 ? '' + datum.value : ''","title":"E","titleFontStyle":"italic","titleFontWeight":"normal","titleFontSize":9,"titlePadding":0}},"y":{"field":"b","type":"quantitative","scale":{"domain":[-0.105,0.5],"nice":false,"zero":false},"axis":null}}},
{"mark":{"type":"line","color":"#129a3a","strokeWidth":1.5,"clip":true},"encoding":{"x":{"field":"E","type":"quantitative","scale":{"domain":[-3.9,3.9],"nice":false,"zero":false},"axis":{"orient":"top","values":[-3.5,-3,-2.5,-2,-1.5,-1,-0.5,0,0.5,1,1.5,2,2.5,3,3.5],"tickSize":-4,"labels":false,"title":null}},"y":{"field":"g","type":"quantitative","scale":{"domain":[-0.105,0.5],"nice":false,"zero":false},"axis":{"orient":"right","values":[-0.1,0,0.1,0.2,0.3,0.4,0.5],"tickSize":-4,"labels":false,"title":null}}}},
{"mark":{"type":"line","color":"#ff0000","strokeWidth":1.5,"clip":true},"encoding":{"x":{"field":"E","type":"quantitative","scale":{"domain":[-3.9,3.9],"nice":false,"zero":false},"axis":null},"y":{"field":"r","type":"quantitative","scale":{"domain":[-0.105,0.5],"nice":false,"zero":false},"axis":null}}},
{"mark":{"type":"line","color":"black","strokeWidth":1.5,"clip":true},"encoding":{"x":{"field":"E","type":"quantitative","scale":{"domain":[-3.9,3.9],"nice":false,"zero":false},"axis":null},"y":{"field":"k","type":"quantitative","scale":{"domain":[-0.105,0.5],"nice":false,"zero":false},"axis":null}}},
{"data":{"values":[{}]},"mark":{"type":"text","text":"f)","align":"left","baseline":"middle","fontSize":9},"encoding":{"x":{"datum":-3.72,"type":"quantitative","scale":{"domain":[-3.9,3.9],"nice":false,"zero":false},"axis":null},"y":{"datum":0.44,"type":"quantitative","scale":{"domain":[-0.105,0.5],"nice":false,"zero":false},"axis":null}}}
]}
]
}
